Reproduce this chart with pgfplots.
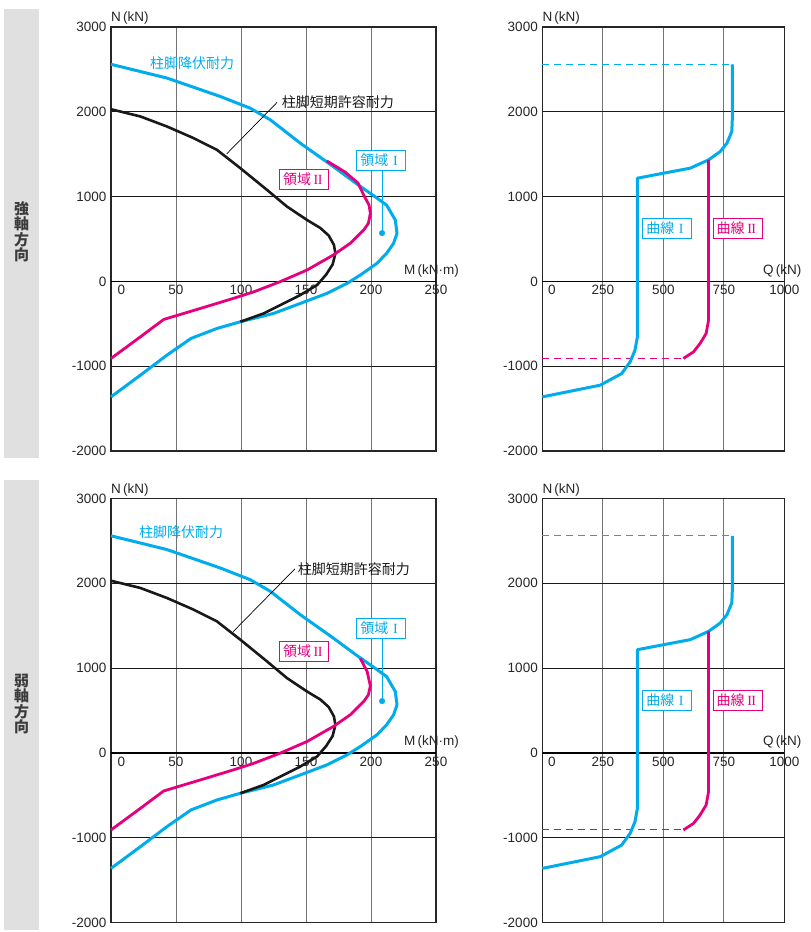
\documentclass[border=0pt]{standalone}
\usepackage{fontspec}
\setmainfont{Liberation Sans}
\newfontfamily\jp{Noto Sans CJK JP}
\newfontfamily\rom{Liberation Serif}
\usepackage{pgfplots}
\usepackage{pgfplotstable}
\pgfplotsset{compat=1.18}
\definecolor{cyanc}{RGB}{0,172,236}
\definecolor{magc}{RGB}{230,0,126}
\definecolor{bandgray}{RGB}{224,224,224}
\definecolor{txtgray}{RGB}{60,60,60}
\newcommand\RI{\makebox[14pt]{\rom I}}
\newcommand\RII{\makebox[14pt]{\rom I\kern-0.5pt I}}

% ---- M-N data (strong / weak axis) ----
\pgfplotstableread{
x y
0 2560
43 2398
84 2181
107 2043
122.6 1905
145.6 1630
171 1354
189 1150
203 1000
212 900
218.7 724
220 567
217.4 449
212 331
204.6 213
191.8 75
181.5 -24
166 -142
145.6 -260
125 -378
99.5 -476
81.5 -555
61.5 -673
43 -870
22.6 -1106
0 -1362
}\blueM
\pgfplotstableread{
x y
0 2030
22.6 1945
43 1827
63.6 1689
81.5 1551
99.5 1335
120 1079
135.4 882
150.8 724
161 630
167.5 540
171.5 430
172.6 331
170.5 200
165.5 80
158.5 -43
145.6 -161
132.8 -260
117.4 -378
99.5 -476
}\blackM
\pgfplotstableread{
x y
166 1420
180 1290
190 1160
195 1000
198.5 900
199.5 803
198 685
194.4 606
184 449
171 311
150.8 134
130 -4
110 -122
94 -201
68.7 -319
40.5 -449
22.6 -654
0 -909
}\magMa
\pgfplotstableread{
x y
191.8 1114
197 961
199.5 790
198 685
194.4 606
184 449
171 311
150.8 134
130 -4
110 -122
94 -201
68.7 -319
40.5 -449
22.6 -654
0 -909
}\magMb
% ---- Q-N data ----
\pgfplotstableread{
x y
785 2560
785 1905
783 1768
763 1630
735 1531
687 1433
611 1335
501 1276
393 1217
393 -654
383 -811
363 -949
328 -1087
239 -1224
0 -1362
}\blueQ
\pgfplotstableread{
x y
687 1433
687 -457
677 -614
652 -732
625 -831
583 -909
}\magQ

\pgfplotsset{
  base/.style={
    scale only axis, height=424pt, anchor=south west,
    ymin=-2000, ymax=3000,
    ytick={-2000,-1000,0,1000,2000,3000},
    yticklabels={-2000,-1000,0,1000,2000,3000},
    major tick length=0pt,
    grid=major,
    x grid style={line width=0.8pt, color=black!55},
    y grid style={line width=0.8pt, color=black!90},
    axis line style={line width=1.4pt, black!85},
    ticklabel style={font=\fontsize{13.5}{14}\selectfont, text=black!85},
    yticklabel style={xshift=-1pt},
    xticklabel style={anchor=north, yshift=169.2pt},
    clip=false,
  },
}
\tikzset{
  boxlab/.style={draw=#1, line width=1pt, fill=white, text=#1, inner sep=3.5pt,
    font=\jp\fontsize{14}{14}\selectfont},
}

\begin{document}
\begin{tikzpicture}[x=1pt,y=1pt]
\useasboundingbox (0,0) rectangle (811,932);
\fill[bandgray] (4,474) rectangle (39,923);
\fill[bandgray] (4,2) rectangle (39,452);
\node[font=\jp\bfseries\fontsize{15}{15.5}\selectfont, text=txtgray, align=center] at (21.7,700) {強\\軸\\方\\向};
\node[font=\jp\bfseries\fontsize{15}{15.5}\selectfont, text=txtgray, align=center] at (21.7,228) {弱\\軸\\方\\向};

% ===== top-left =====
\begin{axis}[base, at={(111pt,481pt)}, width=325pt, xmin=0, xmax=250,
  xtick={0,50,100,150,200,250}, xticklabels={{\hspace{21pt}0},50,100,150,200,250}]
\addplot[black, line width=1.4pt] coordinates {(0,0) (250,0)};
\addplot[cyanc, line width=3pt, line join=round] table {\blueM};
\addplot[black!90, line width=2.6pt, line join=round] table {\blackM};
\addplot[magc, line width=2.8pt, line join=round] table {\magMa};
\addplot[black, line width=0.7pt] coordinates {(127.7,2110) (89,1504)};
\addplot[cyanc, line width=0.8pt] coordinates {(208.5,1300) (208.5,570)};
\addplot[cyanc, only marks, mark=*, mark size=2.8pt] coordinates {(208.5,570)};
\node[anchor=west, inner sep=0, text=cyanc, font=\jp\fontsize{14}{14}\selectfont] at (axis cs:30,2574) {柱脚降伏耐力};
\node[anchor=west, inner sep=0, text=black!90, font=\jp\fontsize{14}{14}\selectfont] at (axis cs:131.3,2113) {柱脚短期許容耐力};
\node[boxlab=magc] at (axis cs:148.5,1204) {領域\RII};
\node[boxlab=cyanc] at (axis cs:208,1428) {領域\RI};
\node[anchor=base west, inner sep=0, font=\fontsize{13.5}{14}\selectfont, text=black!85] at (rel axis cs:0,1) [yshift=5pt] {N\,(kN)};
\node[anchor=base west, inner sep=0, font=\fontsize{13.5}{14}\selectfont, text=black!85] at (axis cs:225.4,83) {M\,(kN·m)};
\end{axis}

% ===== top-right =====
\begin{axis}[base, at={(542.3pt,481pt)}, width=242pt, xmin=0, xmax=1000,
  xtick={0,250,500,750,1000}, xticklabels={{\hspace{19pt}0},250,500,750,1000}]
\addplot[black, line width=1.4pt] coordinates {(0,0) (1000,0)};
\addplot[cyanc, line width=1pt, dash pattern=on 7pt off 5pt] coordinates {(0,2560) (785,2560)};
\addplot[magc, line width=1pt, dash pattern=on 7pt off 5pt] coordinates {(0,-909) (583,-909)};
\addplot[cyanc, line width=3pt, line join=round] table {\blueQ};
\addplot[magc, line width=2.8pt, line join=round] table {\magQ};
\node[boxlab=cyanc] at (axis cs:516.5,626) {曲線\RI};
\node[boxlab=magc] at (axis cs:807.4,626) {曲線\RII};
\node[anchor=base west, inner sep=0, font=\fontsize{13.5}{14}\selectfont, text=black!85] at (rel axis cs:0,1) [yshift=5pt] {N\,(kN)};
\node[anchor=base west, inner sep=0, font=\fontsize{13.5}{14}\selectfont, text=black!85] at (axis cs:912,83) {Q\,(kN)};
\end{axis}

% ===== bottom-left =====
\begin{axis}[base, at={(111pt,9.5pt)}, width=325pt, xmin=0, xmax=250,
  xtick={0,50,100,150,200,250}, xticklabels={{\hspace{21pt}0},50,100,150,200,250}]
\addplot[black, line width=1.4pt] coordinates {(0,0) (250,0)};
\addplot[cyanc, line width=3pt, line join=round] table {\blueM};
\addplot[black!90, line width=2.6pt, line join=round] table {\blackM};
\addplot[magc, line width=2.8pt, line join=round] table {\magMb};
\addplot[black, line width=0.7pt] coordinates {(141.5,2171) (94,1430)};
\addplot[cyanc, line width=0.8pt] coordinates {(208.5,1340) (208.5,611)};
\addplot[cyanc, only marks, mark=*, mark size=2.8pt] coordinates {(208.5,611)};
\node[anchor=west, inner sep=0, text=cyanc, font=\jp\fontsize{14}{14}\selectfont] at (axis cs:21.5,2600) {柱脚降伏耐力};
\node[anchor=west, inner sep=0, text=black!90, font=\jp\fontsize{14}{14}\selectfont] at (axis cs:143.6,2171) {柱脚短期許容耐力};
\node[boxlab=magc] at (axis cs:148.5,1200) {領域\RII};
\node[boxlab=cyanc] at (axis cs:208,1470) {領域\RI};
\node[anchor=base west, inner sep=0, font=\fontsize{13.5}{14}\selectfont, text=black!85] at (rel axis cs:0,1) [yshift=5pt] {N\,(kN)};
\node[anchor=base west, inner sep=0, font=\fontsize{13.5}{14}\selectfont, text=black!85] at (axis cs:225.4,83) {M\,(kN·m)};
\end{axis}

% ===== bottom-right =====
\begin{axis}[base, at={(542.3pt,9.5pt)}, width=242pt, xmin=0, xmax=1000,
  xtick={0,250,500,750,1000}, xticklabels={{\hspace{19pt}0},250,500,750,1000}]
\addplot[black, line width=1.4pt] coordinates {(0,0) (1000,0)};
\addplot[cyanc, line width=1pt, dash pattern=on 7pt off 5pt] coordinates {(0,2560) (785,2560)};
\addplot[magc, line width=1pt, dash pattern=on 7pt off 5pt] coordinates {(0,-909) (583,-909)};
\addplot[cyanc, line width=3pt, line join=round] table {\blueQ};
\addplot[magc, line width=2.8pt, line join=round] table {\magQ};
\node[boxlab=cyanc] at (axis cs:516.5,623) {曲線\RI};
\node[boxlab=magc] at (axis cs:807.4,623) {曲線\RII};
\node[anchor=base west, inner sep=0, font=\fontsize{13.5}{14}\selectfont, text=black!85] at (rel axis cs:0,1) [yshift=5pt] {N\,(kN)};
\node[anchor=base west, inner sep=0, font=\fontsize{13.5}{14}\selectfont, text=black!85] at (axis cs:912,83) {Q\,(kN)};
\end{axis}
\end{tikzpicture}
\end{document}
